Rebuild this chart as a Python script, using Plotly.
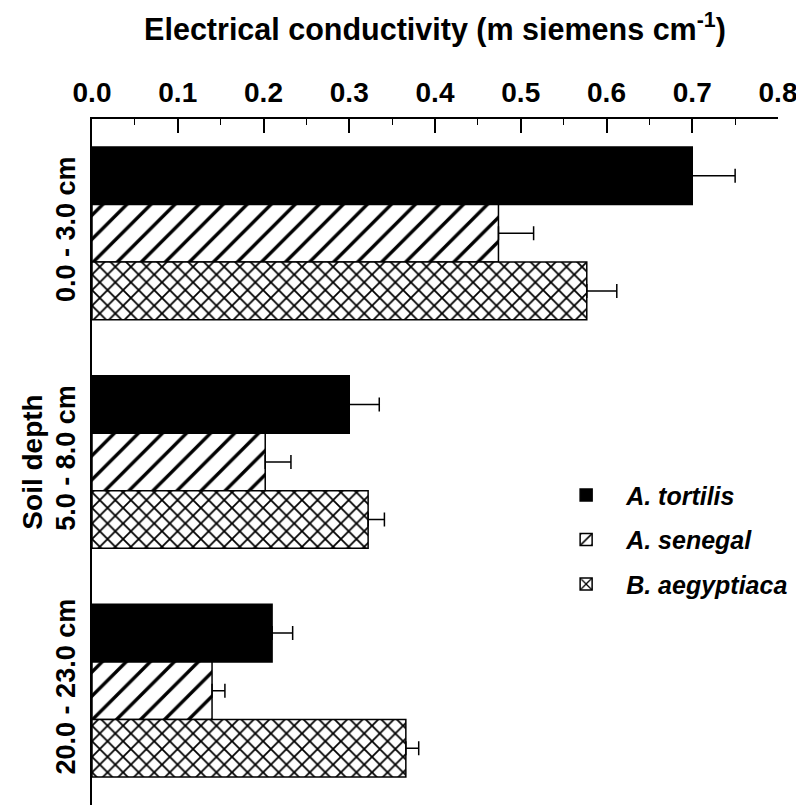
import plotly.graph_objects as go

depths = ["0.0 - 3.0 cm", "5.0 - 8.0 cm", "20.0 - 23.0 cm"]
species = ["A. tortilis", "A. senegal", "B. aegyptiaca"]
tortilis = [0.70, 0.30, 0.21]
tortilis_err = [0.05, 0.035, 0.024]
senegal = [0.474, 0.202, 0.140]
senegal_err = [0.041, 0.030, 0.015]
aegyptiaca = [0.577, 0.322, 0.366]
aegyptiaca_err = [0.035, 0.019, 0.015]
no_minus = [0, 0, 0]

FONT = "Liberation Sans, Arial, Helvetica, sans-serif"

styles = [
    dict(color="black", pattern=None),
    dict(color="white", pattern=dict(shape="/", fgcolor="black", bgcolor="white", fgopacity=1,
                                     size=17, solidity=0.2, fillmode="overlay")),
    dict(color="white", pattern=dict(shape="x", fgcolor="black", bgcolor="white", fgopacity=1,
                                     size=11, solidity=0.3, fillmode="overlay")),
]

fig = go.Figure()
for name, vals, errs, st in zip(species, [tortilis, senegal, aegyptiaca],
                                [tortilis_err, senegal_err, aegyptiaca_err], styles):
    marker = dict(color=st["color"], line=dict(color="black", width=1.5))
    if st["pattern"]:
        marker["pattern"] = st["pattern"]
    fig.add_trace(go.Bar(
        y=depths, x=vals, orientation="h", name=name, marker=marker,
        legendgroup=name,
        error_x=dict(type="data", array=errs, arrayminus=no_minus, symmetric=False,
                     color="black", thickness=1.5, width=7),
    ))

fig.update_layout(
    width=796, height=797,
    margin=dict(l=84, r=26, t=111, b=0),
    paper_bgcolor="white", plot_bgcolor="white",
    barmode="group", bargap=0.245, bargroupgap=0,
    font=dict(family=FONT, color="black", size=26, weight="bold"),
    showlegend=True,
    legend=dict(x=0.662, y=0.485, xanchor="left", yanchor="top",
                font=dict(family=FONT, size=25, style="italic", weight="bold"),
                itemwidth=70,
                tracegroupgap=9, bgcolor="rgba(0,0,0,0)"),
    xaxis=dict(
        side="top", range=[0, 0.8], dtick=0.1, tickformat=".1f",
        ticks="inside", ticklen=14, tickwidth=1.5, tickcolor="black",
        minor=dict(dtick=0.05, ticks="inside", ticklen=6, tickwidth=1.2, tickcolor="black"),
        showline=True, linewidth=2, linecolor="black",
        showgrid=False, zeroline=False, automargin=False,
        ticklabelstandoff=4,
        tickfont=dict(family=FONT, size=28, weight="bold"),
        title=dict(text="Electrical conductivity (m siemens cm<sup>-1</sup>)",
                   font=dict(family=FONT, size=30.5, weight="bold"), standoff=28),
    ),
    yaxis=dict(
        autorange="reversed", showline=True, linewidth=2, linecolor="black",
        showgrid=False, zeroline=False, ticks="", tickangle=-90, automargin=False,
        ticklabelstandoff=4,
        tickfont=dict(family=FONT, size=27, weight="bold"),
        title=dict(text="Soil depth", font=dict(family=FONT, size=28, weight="bold"), standoff=0),
    ),
)

fig.write_html("out.html")
